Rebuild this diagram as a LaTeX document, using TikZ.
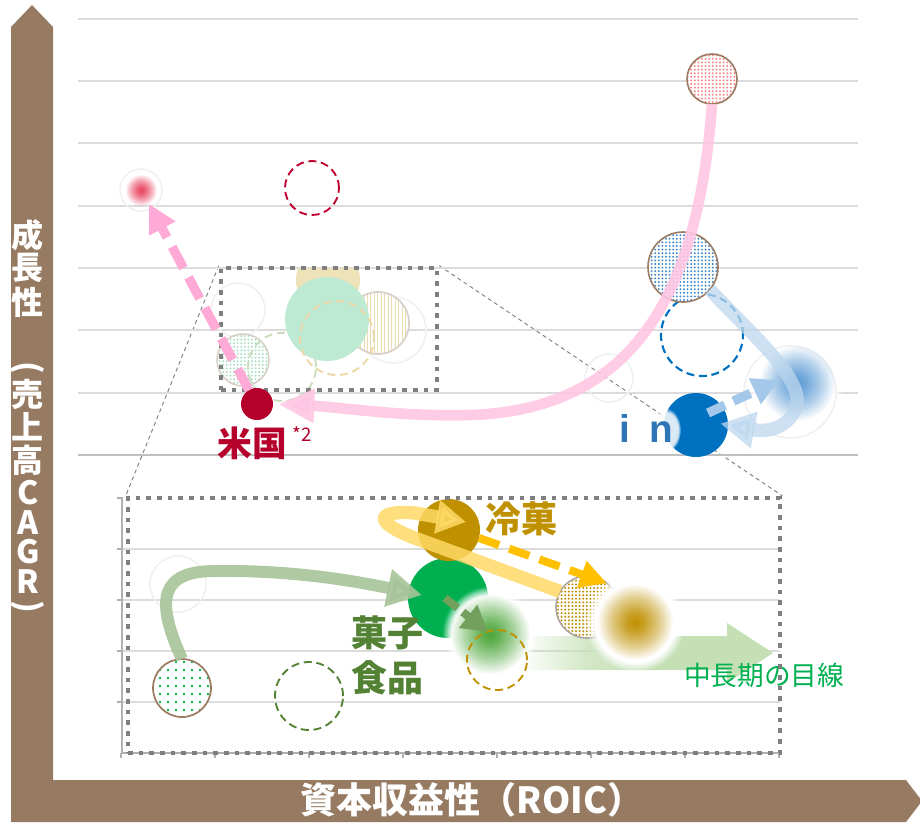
\documentclass[tikz,border=0pt]{standalone}
\usepackage{fontspec}
\newfontfamily\cjk{Noto Sans CJK JP}
\newfontfamily\lib{Liberation Sans}
\usetikzlibrary{arrows.meta,patterns.meta,fadings,calc,backgrounds}
\definecolor{axbrown}{HTML}{967B62}
\definecolor{gridgray}{HTML}{DCDCDC}
\definecolor{basegray}{HTML}{BFBFBF}
\definecolor{boxgray}{HTML}{7F7F7F}
\definecolor{faint}{HTML}{F0F0F0}
\definecolor{outbrown}{HTML}{9C7B62}
\definecolor{pinkline}{HTML}{FFC6E3}
\definecolor{pinkdash}{HTML}{FFAAD6}
\definecolor{usred}{HTML}{B4002B}
\definecolor{redcirc}{HTML}{C0002F}
\definecolor{pinkdots}{HTML}{F58C8C}
\definecolor{blobred}{HTML}{E8435E}
\definecolor{bluedots}{HTML}{3F87CC}
\definecolor{solidblue}{HTML}{0070C0}
\definecolor{lightblue}{HTML}{BDD7EE}
\definecolor{dashblue}{HTML}{A4C8EA}
\definecolor{inblue}{HTML}{2E75B6}
\definecolor{blobblue}{HTML}{5B9BD5}
\definecolor{mint}{HTML}{BEEAD3}
\definecolor{tanfill}{HTML}{EEE2B9}
\definecolor{stripe}{HTML}{EADBB0}
\definecolor{ringgray}{HTML}{D8D0C8}
\definecolor{mintdots}{HTML}{A8E0C4}
\definecolor{lgdash}{HTML}{C9DDBC}
\definecolor{tandash}{HTML}{EBD8A6}
\definecolor{sage}{HTML}{A6C398}
\definecolor{kgreen}{HTML}{00B050}
\definecolor{dkgreen}{HTML}{548235}
\definecolor{arrgreen}{HTML}{74A05E}
\definecolor{bandgreen}{HTML}{C5E0B4}
\definecolor{greenblob}{HTML}{4CA63A}
\definecolor{gold}{HTML}{BF9000}
\definecolor{yloop}{HTML}{FFD966}
\definecolor{ydash}{HTML}{FFC000}
\definecolor{inaxis}{HTML}{B0B0B0}
\pgfdeclareradialshading{blobsh}{\pgfpointorigin}{color(0bp)=(white); color(6bp)=(white!85!black); color(16bp)=(white!45!black); color(25bp)=(black); color(50bp)=(black)}
\pgfdeclarefading{blob}{\pgfuseshading{blobsh}}
\pgfdeclarehorizontalshading{bandsh}{100bp}{color(0bp)=(black); color(25bp)=(black); color(38bp)=(white!75!black); color(50bp)=(white); color(100bp)=(white)}
\pgfdeclarefading{bandfade}{\pgfuseshading{bandsh}}
\tikzset{
  cnode/.style={circle,inner sep=0pt,outer sep=0pt,minimum size=#1*1.5pt},
  gline/.style={draw=gridgray,line width=1.1pt},
  dotbox/.style={draw=boxgray,line width=3.4pt,dash pattern=on 3.4pt off 4.6pt,inner sep=0pt},
  zoomline/.style={draw=boxgray,line width=0.7pt,dash pattern=on 3pt off 2.5pt},
  faintring/.style={draw=faint,line width=1.2pt},
  halo/.style={fill=white,path fading=circle with fuzzy edge 20 percent},
  dashring/.style={line width=1.4pt,dash pattern=on 6pt off 3.5pt},
  dotted ball/.style={preaction={fill=white},pattern={Dots[radius=#1,distance=2.7pt]},line width=1.2pt},
  axtxt/.style={font=\cjk\bfseries\fontsize{24pt}{26pt}\selectfont,text=white,inner sep=0pt},
  lbl/.style={font=\cjk\bfseries\fontsize{27pt}{30pt}\selectfont,inner sep=0pt},
}
\begin{document}
\begin{tikzpicture}[x=0.75pt,y=-0.75pt]
\useasboundingbox (0,0) rectangle (920,822);
% axes band
\fill[axbrown] (11,822) -- (11,27) -- (32,5) -- (53,27) -- (53,780) -- (906,780) -- (922,801) -- (906,822) -- cycle;
% grid lines (main)
\foreach \yy in {19,81,143,206,268,330,393} \draw[gline] (78,\yy) -- (858,\yy);
\draw[draw=basegray,line width=1.4pt] (78,455) -- (858,455);
% inset grid
\foreach \yy in {549,600,651,702} \draw[gline] (120,\yy) -- (780,\yy);
\draw[inaxis,line width=1pt] (122,497) -- (122,753) -- (780,753);
\foreach \xx in {121,215,309,403,497,591,685,779} \draw[inaxis,line width=1pt] (\xx,753) -- (\xx,758);
\foreach \yy in {498,549,600,651,702} \draw[inaxis,line width=1pt] (117,\yy) -- (122,\yy);

% ---------- main area ----------
\node[cnode=27,draw=redcirc,dashring] (rdc) at (312,188) {};
\node[cnode=21,faintring] (pbr) at (141,190) {};
\node[cnode=16,fill=blobred,path fading=blob] (pb) at (141,190) {};
\node[cnode=24,faintring] (fr1) at (609,378) {};

% small box contents
\begin{scope}
  \clip (221,268) rectangle (437,392);
  \node[cnode=32,fill=tanfill] (tanc) at (328,280) {};
\end{scope}
\node[cnode=27,faintring] (fr2) at (238,310) {};
\node[cnode=33,faintring] (fr3) at (393,330) {};
\node[cnode=31,preaction={fill=white},pattern={Lines[angle=90,distance=2.6pt,line width=0.7pt]},pattern color=stripe,draw=ringgray,line width=1.3pt] (strc) at (378,323) {};
\node[cnode=26,dotted ball=0.8pt,pattern color=mintdots,draw=ringgray] (lgc) at (243,360) {};
\node[cnode=34,draw=lgdash,dashring] (lgdc) at (282,367) {};
\node[cnode=42,fill=mint] (mintc) at (327,319) {};
\node[cnode=37,draw=tandash,dashring] (tdc) at (337,338) {};
\node[dotbox,minimum width=162pt,minimum height=91.5pt] (sbox) at (329,329) {};

% right group
\node[cnode=41,draw=solidblue,dashring,line width=1.6pt] (bdc) at (702,335) {};
\node[cnode=35,dotted ball=0.8pt,pattern color=bluedots,draw=outbrown] (bd) at (683,267) {};
\node[cnode=25,dotted ball=0.85pt,pattern color=pinkdots,draw=outbrown] (pt) at (712,79) {};

% US
\node[cnode=16,fill=usred] (us) at (257,404) {};
\node[lbl,text=usred,font=\cjk\bfseries\fontsize{26pt}{28pt}\selectfont] (usl) at (252,443) {米国};
\node[font=\cjk\fontsize{14pt}{16pt}\selectfont,text=usred,inner sep=0pt] (usn) at (302,434) {*2};

% pink arrows
\draw[pinkline,line width=8pt,opacity=.9,shorten >=4pt,-{Triangle[length=27pt,width=24pt]}]
  (pt.south) .. controls (698,300) and (630,410) .. (470,415)
  .. controls (400,417) and (340,407) .. (us.east);
\draw[pinkdash,line width=7pt,dash pattern=on 18pt off 8pt,-{Triangle[length=21pt,width=21pt]}]
  (us.120) -- (pb.-60);

% blue blob and arrows
\node[cnode=48,halo] (bbh) at (795,386) {};
\node[cnode=46,faintring] (bbr) at (790,392) {};
\node[cnode=38,fill=blobblue,path fading=blob] (bb) at (797,383) {};
\node[cnode=32,fill=solidblue] (bs) at (696,425) {};
\fill[white,opacity=.85,path fading=circle with fuzzy edge 20 percent] (666,430) ellipse (15 and 22);
\draw[lightblue,line width=10pt,opacity=.75,shorten >=-6pt,-{Triangle[length=26pt,width=26pt]}]
  (bd.-40) .. controls (752,335) and (812,385) .. (794,412)
  .. controls (784,430) and (765,432) .. (bs.east);
\draw[dashblue,line width=7pt,dash pattern=on 14pt off 7pt,-{Triangle[length=20pt,width=20pt]}]
  ($(bs)+(12,-12)$) -- ($(bb)+(-18,-3)$);
\node[font=\lib\bfseries\fontsize{29pt}{30pt}\selectfont,text=inblue,inner sep=0pt] (inl) at (646,428) {i\enspace n};

% ---------- inset ----------
\node[cnode=28,faintring] (fr4) at (178,584) {};
\node[cnode=29,preaction={fill=white},pattern={Dots[radius=1.1pt,distance=6pt]},pattern color=kgreen,draw=outbrown,line width=1.3pt] (gd) at (182,688) {};
\node[cnode=34,draw=dkgreen,dashring] (dgdc) at (309,696) {};
\fill[bandgreen,path fading=bandfade] (520,636) -- (727,636) -- (727,623) -- (773,653) -- (727,683) -- (727,670) -- (520,670) -- cycle;
\node[cnode=40,fill=kgreen] (gc) at (448,598) {};
\node[cnode=48,halo] (gbh) at (490,634) {};
\node[cnode=40,fill=greenblob,path fading=blob] (gblob) at (490,634) {};
\node[cnode=30,draw=gold,dashring] (gdash) at (497,660) {};
\node[cnode=31,dotted ball=0.85pt,pattern color=gold,draw=ringgray!80!black] (gdc) at (587,607) {};
\node[cnode=50,halo] (gbbh) at (635,622) {};
\node[cnode=38,fill=gold,path fading=blob] (gbb) at (635,622) {};
\node[cnode=31,fill=gold] (gcirc) at (449,530) {};

\draw[yloop,line width=10pt,opacity=.85,-{Triangle[length=22pt,width=24pt]}]
  (gdc.150) -- (412,537) .. controls (372,521) and (378,510) .. (415,513) -- ($(gcirc)+(17,-8)$);
\draw[ydash,line width=6pt,dash pattern=on 16pt off 8pt,-{Triangle[length=20pt,width=20pt]}]
  ($(gcirc)+(30,8)$) -- (gdc.50);
\draw[sage,line width=9pt,opacity=.9,-{Triangle[length=26pt,width=27pt]}]
  (gd.north) .. controls (155,600) and (160,571) .. (215,571)
  .. controls (290,570) and (350,580) .. ($(gc)+(-26,-3)$);
\draw[arrgreen,line width=6pt,dash pattern=on 12pt off 5pt,-{Triangle[length=19pt,width=21pt]}]
  ($(gc)+(-3,0)$) -- ($(gblob)+(-2,-2)$);

\node[lbl,text=gold] (rkl) at (521,519) {冷菓};
\node[lbl,text=dkgreen] (kgl1) at (387,633) {菓子};
\node[lbl,text=dkgreen] (kgl2) at (387,678) {食品};
\node[font=\cjk\fontsize{20pt}{22pt}\selectfont,text=kgreen,inner sep=0pt] (mtl) at (764,675) {中長期の目線};
\node[dotbox,minimum width=489pt,minimum height=191.25pt] (ibox) at (454,625.5) {};

% zoom lines
\begin{scope}[on background layer]
  \draw[zoomline] (sbox.north west) -- (ibox.north west);
  \draw[zoomline] (sbox.north east) -- (ibox.north east);
\end{scope}

% axis labels
\foreach \ch/\yy/\rr [count=\i] in {成/235/0,長/268/0,性/302/0,{(}/368/-90,売/394/0,上/427/0,高/460/0,C/493/0,A/523/0,G/552/0,R/582/0,{)}/607/-90}{
  \node[axtxt,rotate=\rr] (vl\i) at (28,\yy) {\ch};
}
\node[axtxt,font=\cjk\bfseries\fontsize{27pt}{30pt}\selectfont] (xl) at (472,800) {資本収益性（ROIC）};
\end{tikzpicture}
\end{document}
